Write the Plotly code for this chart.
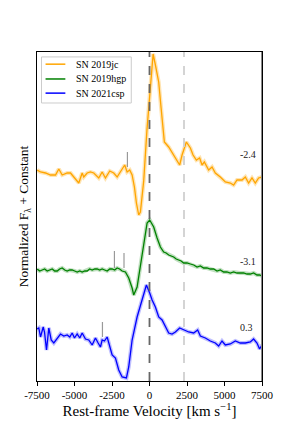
import plotly.graph_objects as go

# ---------------- data ----------------
names = ["SN 2019jc", "SN 2019hgp", "SN 2021csp"]
colors = ["#FFA500", "#008000", "#0000FF"]
band_colors = ["rgba(255,165,0,0.30)", "rgba(0,128,0,0.25)", "rgba(0,0,255,0.25)"]

v_jc = [-7486, -7266, -6933, -6600, -6267, -6047, -5821, -5488, -5268, -5048, -4715, -4489,
        -4382, -4156, -3936, -3716, -3383, -3157, -2937, -2651, -2384, -2158, -1938, -1652,
        -1492, -1319, -1159, -1006, -872, -719, -606, -386, -170, 60, 240, 393, 613, 773,
        992, 1279, 1505, 1725, 2011, 2171, 2458, 2724, 2904, 3124, 3343, 3503, 3656, 3943,
        4169, 4389, 4722, 5055, 5388, 5608, 5834, 6167, 6387, 6607, 6833, 7053, 7273, 7499]
f_jc = [2.11, 2.09, 2.08, 2.06, 2.06, 2.12, 2.06, 2.08, 2.08, 2.04, 1.98, 2.08,
        2.04, 2.08, 2.09, 2.08, 2.03, 2.09, 2.03, 2.10, 2.08, 2.04, 2.09, 2.16,
        2.09, 2.11, 2.06, 1.94, 1.78, 1.66, 1.69, 2.00, 2.51, 2.91, 3.27, 3.16, 2.99, 2.73,
        2.39, 2.34, 2.28, 2.23, 2.16, 2.26, 2.39, 2.33, 2.26, 2.21, 2.23, 2.16, 2.19, 2.11,
        2.14, 2.08, 2.04, 1.99, 1.98, 1.96, 2.01, 2.01, 2.04, 1.98, 2.03, 1.98, 2.03, 2.04]

v_hgp = [-7486, -7320, -7153, -6990, -6820, -6650, -6487, -6320, -6154, -5990, -5821, -5650,
         -5488, -5320, -5155, -4990, -4822, -4650, -4489, -4320, -4156, -3990, -3823, -3650,
         -3490, -3320, -3157, -2990, -2824, -2650, -2491, -2320, -2158, -1990, -1825, -1605,
         -1385, -1159, -1052, -826, -493, -386, -160, 13, 280, 506, 726, 946, 1110, 1279,
         1450, 1612, 1780, 1945, 2110, 2278, 2500, 2724, 2950, 3170, 3390, 3610, 3830, 4056,
         4280, 4502, 4720, 4942, 5160, 5388, 5610, 5834, 6050, 6274, 6500, 6720, 6940, 7166,
         7330, 7499]
f_hgp = [1.12, 1.10, 1.11, 1.12, 1.10, 1.11, 1.12, 1.10, 1.10, 1.12, 1.13, 1.11,
         1.10, 1.11, 1.11, 1.10, 1.09, 1.10, 1.09, 1.10, 1.10, 1.12, 1.11, 1.12,
         1.12, 1.11, 1.12, 1.11, 1.10, 1.12, 1.12, 1.11, 1.13, 1.12, 1.10, 1.09,
         1.03, 0.93, 0.86, 0.94, 1.28, 1.38, 1.58, 1.61, 1.54, 1.43, 1.34, 1.29, 1.28, 1.26,
         1.25, 1.24, 1.22, 1.21, 1.20, 1.18, 1.18, 1.17, 1.16, 1.14, 1.15, 1.13, 1.13, 1.12,
         1.12, 1.10, 1.11, 1.09, 1.09, 1.08, 1.09, 1.08, 1.08, 1.08, 1.07, 1.07, 1.08, 1.06,
         1.06, 1.05]

v_csp = [-7486, -7379, -7266, -7086, -7000, -6866, -6713, -6553, -6380, -6154, -5934, -5714,
         -5488, -5315, -5155, -5002, -4822, -4649, -4489, -4269, -4049, -3823, -3603, -3423,
         -3270, -3157, -3004, -2824, -2651, -2491, -2271, -2051, -1825, -1538, -1385, -1159,
         -826, -493, -206, 13, 173, 393, 613, 839, 1059, 1279, 1505, 1725, 2011, 2278, 2611,
         2944, 3210, 3390, 3723, 4056, 4389, 4609, 4835, 5055, 5388, 5721, 6054, 6387, 6720,
         6940, 7166, 7339, 7499]
f_csp = [0.52, 0.53, 0.44, 0.54, 0.49, 0.31, 0.53, 0.41, 0.38, 0.43, 0.47, 0.45,
         0.46, 0.44, 0.48, 0.43, 0.47, 0.43, 0.48, 0.42, 0.41, 0.36, 0.43, 0.38,
         0.34, 0.41, 0.40, 0.44, 0.34, 0.26, 0.23, 0.11, 0.04, 0.03, 0.14, 0.41,
         0.64, 0.81, 0.96, 0.88, 0.81, 0.74, 0.64, 0.61, 0.54, 0.48, 0.47, 0.49, 0.53, 0.51, 0.49,
         0.48, 0.51, 0.45, 0.43, 0.40, 0.38, 0.35, 0.40, 0.36, 0.37, 0.40, 0.38, 0.38, 0.39,
         0.42, 0.38, 0.32, 0.36]

velocities = [v_jc, v_hgp, v_csp]
fluxes = [f_jc, f_hgp, f_csp]

phase_labels = ["-2.4", "-3.1", "0.3"]
phase_label_v = [6540, 6540, 6450]
phase_label_f = [2.27, 1.20, 0.54]

# small grey line-identification markers: velocity, bottom, top
mark_v = [-1472, -2338, -1700, -3137]
mark_lo = [2.14, 1.13, 1.13, 0.44]
mark_hi = [2.29, 1.30, 1.28, 0.59]

ref_lines_v = [0, 2300]
ref_lines_col = ["#666666", "#d0d0d0"]

x_ticks = [-7500, -5000, -2500, 0, 2500, 5000, 7500]
x_range = [-7500, 7500]
y_range = [0.0, 3.29]

FONT = "Liberation Serif"

# ---------------- figure ----------------
fig = go.Figure()

for v, f, bc in zip(velocities, fluxes, band_colors):
    fig.add_trace(go.Scatter(x=v, y=f, mode="lines", line=dict(color=bc, width=4),
                             showlegend=False, hoverinfo="skip"))
for v, f, n, c in zip(velocities, fluxes, names, colors):
    fig.add_trace(go.Scatter(x=v, y=f, mode="lines", name=n, line=dict(color=c, width=1.3),
                             showlegend=False))

for mv, lo, hi in zip(mark_v, mark_lo, mark_hi):
    fig.add_trace(go.Scatter(x=[mv, mv], y=[lo, hi], mode="lines",
                             line=dict(color="#999999", width=1.2),
                             showlegend=False, hoverinfo="skip"))

for rv, rc in zip(ref_lines_v, ref_lines_col):
    fig.add_shape(type="line", x0=rv, x1=rv, y0=0, y1=1, xref="x", yref="paper",
                  line=dict(color=rc, width=1.8, dash="dash"), layer="above")

fig.add_shape(type="line", x0=x_range[1], x1=x_range[1], y0=0, y1=1, xref="x", yref="paper",
              line=dict(color="#888888", width=2))

for lab, lv, lf in zip(phase_labels, phase_label_v, phase_label_f):
    fig.add_annotation(x=lv, y=lf, text=lab, showarrow=False,
                       font=dict(size=10, color="#222222", family=FONT))

# ---- legend box (manual, matplotlib-like) ----
leg_x0, leg_x1, leg_y0, leg_y1 = 0.020, 0.419, 0.845, 0.985
leg_rows = [0.963, 0.918, 0.875]
fig.add_shape(type="rect", xref="paper", yref="paper", x0=leg_x0, x1=leg_x1, y0=leg_y0, y1=leg_y1,
              line=dict(color="#cccccc", width=1), fillcolor="rgba(255,255,255,0.9)")
for n, c, ry in zip(names, colors, leg_rows):
    fig.add_shape(type="line", xref="paper", yref="paper", x0=0.038, x1=0.126, y0=ry, y1=ry,
                  line=dict(color=c, width=1.5))
    fig.add_annotation(xref="paper", yref="paper", x=0.166, y=ry, text=n, showarrow=False,
                       xanchor="left", yanchor="middle",
                       font=dict(size=10, family=FONT, color="black"))

fig.update_layout(
    width=283, height=428,
    margin=dict(l=28.5, r=29, t=44, b=55),
    paper_bgcolor="white", plot_bgcolor="white",
    font=dict(family=FONT, color="black"),
    showlegend=False,
)
fig.update_xaxes(range=x_range, tickvals=x_ticks, ticktext=[str(t) for t in x_ticks],
                 showgrid=False, zeroline=False, showline=True, linecolor="black",
                 linewidth=1, mirror=True, ticks="outside", ticklen=4, tickcolor="black",
                 tickfont=dict(size=11, family=FONT),
                 title=dict(text="Rest-frame Velocity [km s<sup>−1</sup>]",
                            font=dict(size=15, family=FONT), standoff=3))
fig.update_yaxes(range=y_range, showticklabels=False, ticks="", showgrid=False, zeroline=False,
                 showline=True, linecolor="black", linewidth=1, mirror=True,
                 title=dict(text="Normalized F<sub>λ</sub> + Constant",
                            font=dict(size=13.5, family=FONT), standoff=4))

fig.write_html("out.html")
